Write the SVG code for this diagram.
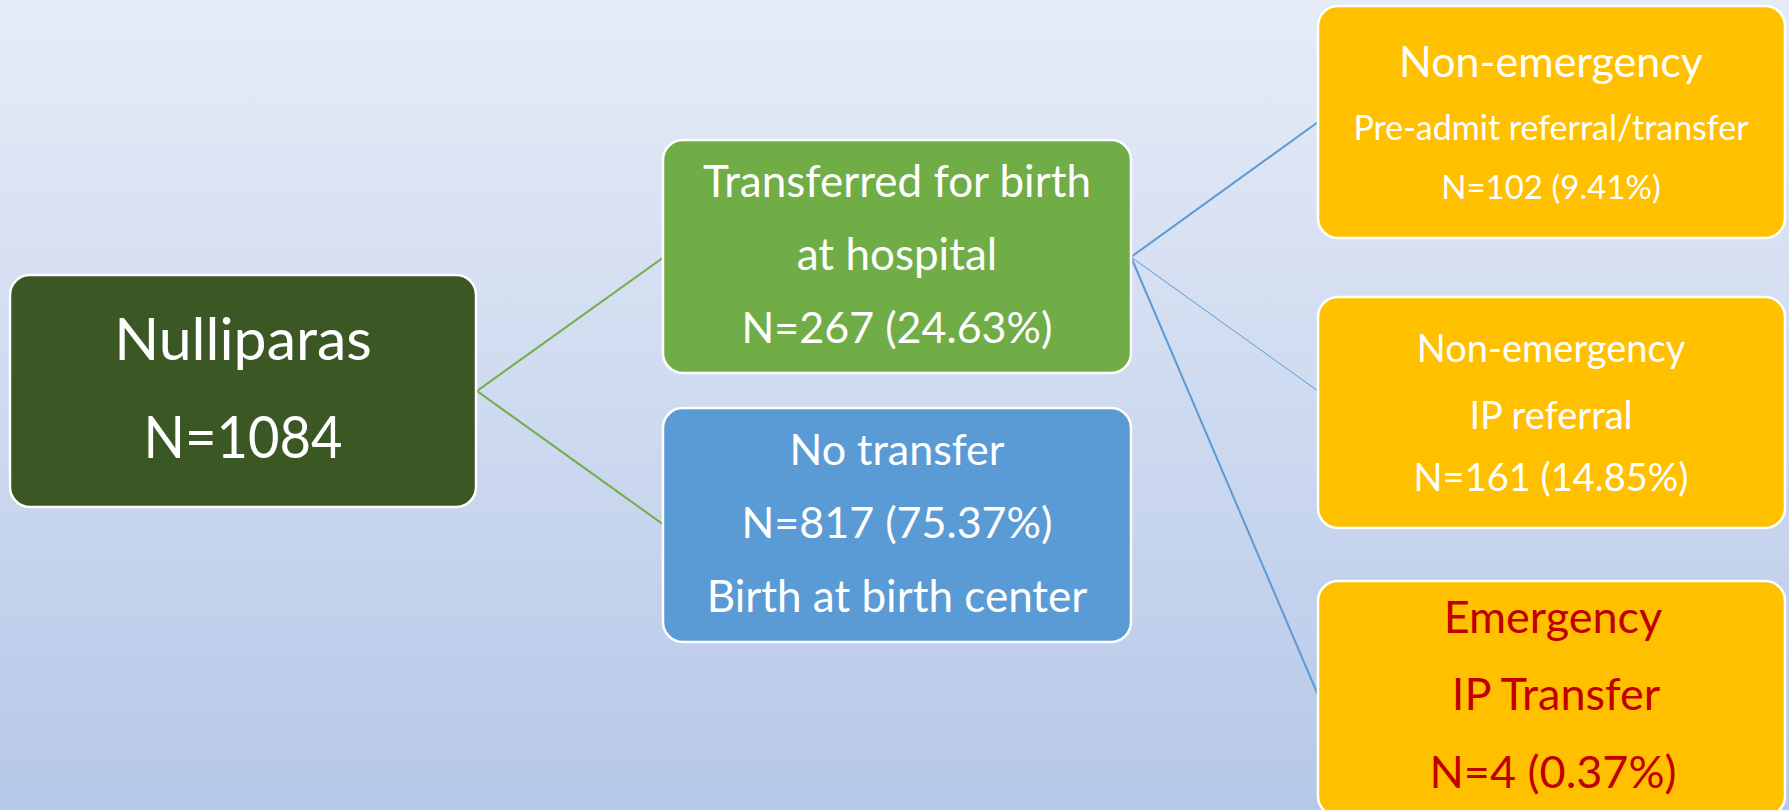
<svg xmlns="http://www.w3.org/2000/svg" width="1789" height="810" viewBox="0 0 1789 810">
<defs>
<linearGradient id="bg" x1="0" y1="0" x2="0" y2="1">
<stop offset="0" stop-color="#E6ECF7"/>
<stop offset="1" stop-color="#B6C8E8"/>
</linearGradient>
<style>
.box{stroke:#FFFFFF;stroke-width:2.5}
.t{font-family:Lato,"Open Sans","Liberation Sans",sans-serif;fill:#FFFFFF;text-anchor:middle}
.red{fill:#C00000}
.g{stroke:#70AD47;stroke-width:2;fill:none}
.b{stroke:#5B9BD5;stroke-width:2;fill:none}
</style>
</defs>
<rect x="0" y="0" width="1789" height="810" fill="url(#bg)"/>
<g id="connectors">
<line class="g" x1="477" y1="391" x2="664" y2="257"/>
<line class="g" x1="477" y1="391" x2="664" y2="525"/>
<line class="b" x1="1131" y1="257" x2="1318" y2="122"/>
<line class="b" x1="1131" y1="257" x2="1318" y2="391" style="stroke-width:1"/>
<line class="b" x1="1131" y1="257" x2="1318" y2="695"/>
</g>
<g id="nulliparas">
<rect class="box" x="10" y="275" width="466" height="232" rx="20" fill="#3A5724"/>
<text class="t" x="243" y="360" font-size="59">Nulliparas</text>
<text class="t" x="243" y="458" font-size="59" textLength="199" lengthAdjust="spacingAndGlyphs">N=1084</text>
</g>
<g id="transferred">
<rect class="box" x="663" y="140" width="468" height="233" rx="20" fill="#70AD47"/>
<text class="t" x="897" y="197" font-size="44">Transferred for birth</text>
<text class="t" x="897" y="270" font-size="44">at hospital</text>
<text class="t" x="897" y="343" font-size="43">N=267 (24.63%)</text>
</g>
<g id="notransfer">
<rect class="box" x="663" y="408" width="468" height="234" rx="20" fill="#5B9BD5"/>
<text class="t" x="897" y="465" font-size="43">No transfer</text>
<text class="t" x="897" y="538" font-size="43">N=817 (75.37%)</text>
<text class="t" x="897" y="612" font-size="44">Birth at birth center</text>
</g>
<g id="preadmit">
<rect class="box" x="1318" y="6" width="467" height="232" rx="20" fill="#FFC000"/>
<text class="t" x="1551" y="77" font-size="43">Non-emergency</text>
<text class="t" x="1551" y="140" font-size="34">Pre-admit referral/transfer</text>
<text class="t" x="1551" y="199" font-size="33">N=102 (9.41%)</text>
</g>
<g id="ipreferral">
<rect class="box" x="1318" y="297" width="467" height="231" rx="20" fill="#FFC000"/>
<text class="t" x="1551" y="362" font-size="38">Non-emergency</text>
<text class="t" x="1551" y="429" font-size="38">IP referral</text>
<text class="t" x="1551" y="491" font-size="38">N=161 (14.85%)</text>
</g>
<g id="emergency">
<rect class="box" x="1318" y="581" width="467" height="235" rx="20" fill="#FFC000"/>
<text class="t red" x="1553" y="633" font-size="45">Emergency</text>
<text class="t red" x="1556" y="710" font-size="45">IP Transfer</text>
<text class="t red" x="1553" y="788" font-size="45">N=4 (0.37%)</text>
</g>
</svg>
